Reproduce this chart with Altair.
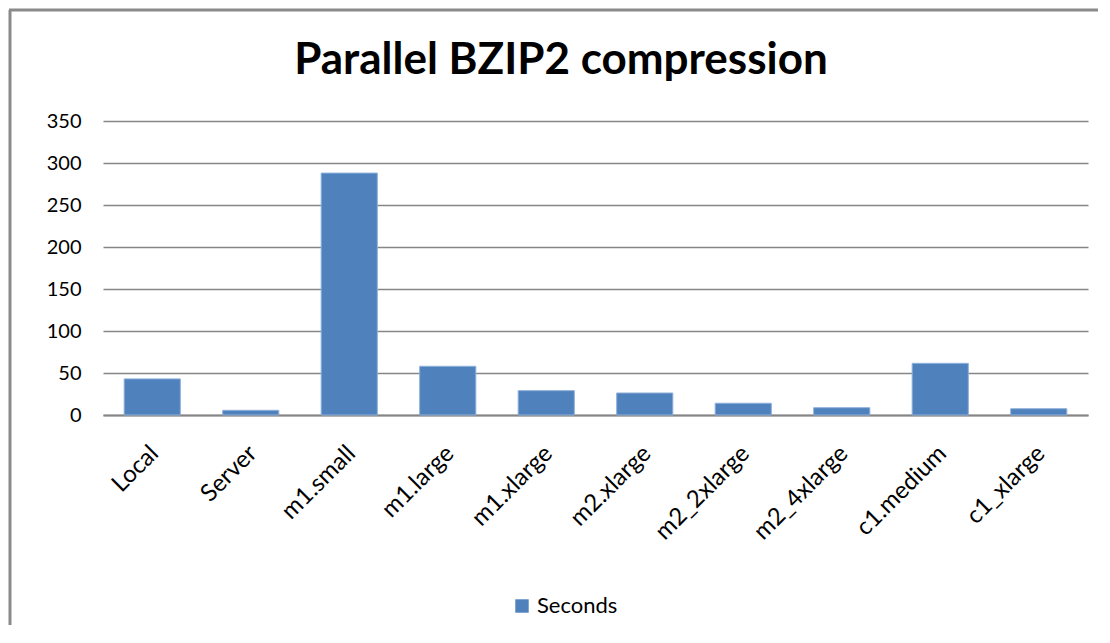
import altair as alt
import pandas as pd

categories = ["Local", "Server", "m1.small", "m1.large", "m1.xlarge", "m2.xlarge",
              "m2_2xlarge", "m2_4xlarge", "c1.medium", "c1_xlarge"]
seconds = [43, 5.6, 288, 58, 29, 26.2, 14, 8.7, 61.5, 7.5]
series_name = "Seconds"
y_ticks = [0, 50, 100, 150, 200, 250, 300, 350]
title_text = "Parallel BZIP2 compression"

df = pd.DataFrame({"Instance": categories, "Value": seconds, "Series": series_name})
title_df = pd.DataFrame({"t": [title_text]})

FONT = "Lato"
BLUE = "#4F81BD"

bars = alt.Chart(df).mark_bar(stroke="#8EB0DB", strokeWidth=1).encode(
    x=alt.X("Instance:N", sort=categories, title=None,
            scale=alt.Scale(paddingInner=0.43, paddingOuter=0.215),
            axis=alt.Axis(labelAngle=-45, labelFontSize=24, labelFont=FONT,
                          labelColor="#000000", ticks=False, domain=True,
                          domainColor="#868686", domainWidth=2, labelPadding=26,
                          labelOffset=-6)),
    y=alt.Y("Value:Q", title=None,
            scale=alt.Scale(domain=[0, 350], nice=False),
            axis=alt.Axis(values=y_ticks, labelFontSize=20, labelFont=FONT,
                          labelColor="#000000", ticks=False, domain=False,
                          gridColor="#868686", gridWidth=1.5, labelPadding=22)),
    color=alt.Color("Series:N", scale=alt.Scale(range=[BLUE]),
                    legend=alt.Legend(title=None, orient="none", legendX=408, legendY=474,
                                      symbolType="square", symbolSize=180,
                                      symbolStrokeWidth=0,
                                      labelFontSize=22, labelFont=FONT,
                                      labelColor="#000000", labelOffset=4)),
)

title_mark = alt.Chart(title_df).mark_text(
    font=FONT, fontSize=44, fontWeight="bold", color="#000000",
    align="center", baseline="middle").encode(
    text="t:N", x=alt.value(458), y=alt.value(-60))

frame_left = alt.Chart(title_df).mark_rule(color="#8A8A8A", strokeWidth=3).encode(
    x=alt.value(-93), y=alt.value(-111), y2=alt.value(530))
frame_top = alt.Chart(title_df).mark_rule(color="#8A8A8A", strokeWidth=3).encode(
    x=alt.value(-94), x2=alt.value(1010), y=alt.value(-111))

chart = alt.layer(bars, title_mark, frame_left, frame_top).properties(
    width=985, height=294,
    background="white",
    autosize=alt.AutoSizeParams(type="none"),
    padding={"left": 95, "top": 113, "right": 10, "bottom": 210},
).configure_view(stroke=None)

chart.save("out.html", embed_options={"renderer": "svg", "actions": False})
